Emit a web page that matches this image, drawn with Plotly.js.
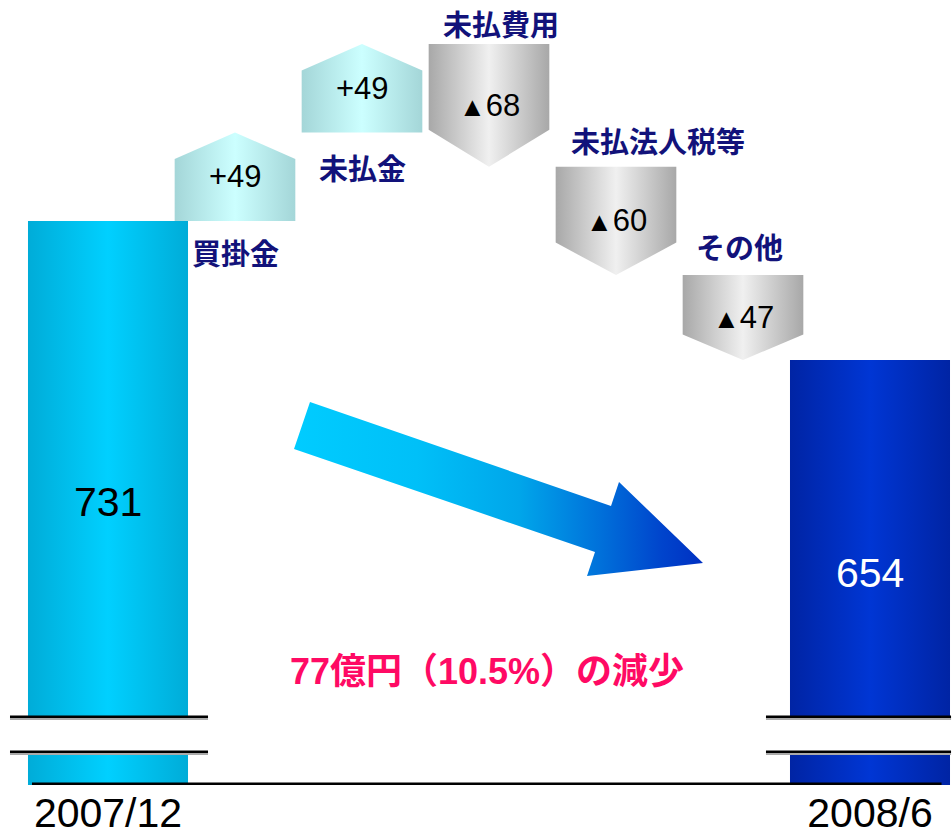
<!DOCTYPE html>
<html>
<head>
<meta charset="utf-8">
<script src="https://cdn.plot.ly/plotly-3.0.1.min.js"></script>
<style>html,body{margin:0;padding:0;background:#fff;}#chart{width:952px;height:836px;}</style>
</head>
<body>
<div id="chart"></div>
<script>
// ---- data ----
const periodLabels = ['2007/12', '2008/6'];
const startValue = 731;
const endValue = 654;
const changeNames = ['買掛金', '未払金', '未払費用', '未払法人税等', 'その他'];
const changeValues = [49, 49, -68, -60, -47];
const summaryText = '77億円（10.5%）の減少';

// ---- styling helpers ----
const barW = 1.26, boxW = 0.95, tipFrac = 0.3;
const navy = '#12127a';
const jpFont = 'Liberation Sans, Arial, Noto Sans CJK JP, sans-serif';

function gradient(edge, mid) {
  return {type: 'horizontal', colorscale: [[0, edge], [0.5, mid], [1, edge]]};
}
function poly(x, y, fg) {
  return {x: x, y: y, mode: 'lines', fill: 'toself', line: {width: 0, color: 'rgba(0,0,0,0)'},
          fillcolor: fg.colorscale[1][1], fillgradient: fg, hoverinfo: 'skip', showlegend: false};
}

const traces = [];
const annotations = [];

// start bar
traces.push(poly([0 - barW/2, 0 + barW/2, 0 + barW/2, 0 - barW/2, 0 - barW/2],
                 [0, 0, startValue, startValue, 0], gradient('#00acd8', '#00d0ff')));
// end bar
const endIdx = changeValues.length + 1;
traces.push(poly([endIdx - barW/2, endIdx + barW/2, endIdx + barW/2, endIdx - barW/2, endIdx - barW/2],
                 [0, 0, endValue, endValue, 0], gradient('#0024a4', '#0036d4')));

// change boxes
let level = startValue;
const labelOffsets = [
  {xs: 0, ys: -8, anchor: 'top'},
  {xs: 0, ys: -12, anchor: 'top'},
  {xs: 12, ys: -2, anchor: 'bottom'},
  {xs: 42, ys: 4, anchor: 'bottom'},
  {xs: -4, ys: 6, anchor: 'bottom'}
];
changeValues.forEach(function (v, k) {
  const i = k + 1;
  const a = level, b = level + v;
  const t = tipFrac * Math.abs(v);
  const shoulder = v > 0 ? b - t : b + t;
  const xs = [i - boxW/2, i + boxW/2, i + boxW/2, i, i - boxW/2, i - boxW/2];
  const ys = [a, a, shoulder, b, shoulder, a];
  traces.push(poly(xs, ys, v > 0 ? gradient('#a4d6d8', '#ccffff') : gradient('#a8a8a8', '#f0f0f0')));
  const valText = v > 0 ? '+' + v : '<span style="font-size:27px">▲</span>' + Math.abs(v);
  annotations.push({x: i, y: (a + b) / 2, xref: 'x', yref: 'y', text: valText, showarrow: false,
                    xanchor: 'center', yanchor: 'middle',
                    font: {family: 'Liberation Sans, Arial, sans-serif', size: 31, color: '#000'}});
  const o = labelOffsets[k];
  const labY = o.anchor === 'top' ? Math.min(a, b) : Math.max(a, b);
  annotations.push({x: i, y: labY, xref: 'x', yref: 'y', text: '<b>' + changeNames[k] + '</b>',
                    showarrow: false, xanchor: 'center', yanchor: o.anchor, xshift: o.xs, yshift: o.ys,
                    font: {family: 'Noto Sans CJK JP, sans-serif', size: 29, color: navy}});
  level = b;
});

// values in bars
annotations.push({x: 0, y: 0.3605, xref: 'x', yref: 'paper', text: String(startValue), showarrow: false,
                  xanchor: 'center', yanchor: 'middle',
                  font: {family: 'Liberation Sans, Arial, sans-serif', size: 41, color: '#000'}});
annotations.push({x: endIdx, y: 0.27, xref: 'x', yref: 'paper', text: String(endValue), showarrow: false,
                  xanchor: 'center', yanchor: 'middle',
                  font: {family: 'Liberation Sans, Arial, sans-serif', size: 41, color: '#fff'}});
annotations.push({x: 0.5116, y: 0.144, xref: 'paper', yref: 'paper', text: '<b>' + summaryText + '</b>',
                  showarrow: false, xanchor: 'center', yanchor: 'middle',
                  font: {family: jpFont, size: 36, color: '#ff0a64'}});

// decorative arrow (pixel positions within the plot area)
const arrowX = [310, 611, 619, 703, 587, 595, 294, 310];
const arrowY = [402, 506, 482, 563, 576, 552, 449, 402];
traces.push({x: arrowX, y: arrowY, xaxis: 'x2', yaxis: 'y2', mode: 'lines', fill: 'toself',
             line: {width: 0, color: 'rgba(0,0,0,0)'}, fillcolor: '#00a0e8',
             fillgradient: {type: 'horizontal', colorscale: [[0, '#00ccff'], [0.3, '#00c0f8'], [0.55, '#00a6ea'], [0.75, '#0070da'], [0.9, '#0044cc'], [1, '#0030c2']]},
             hoverinfo: 'skip', showlegend: false});

// axis break + baseline
const shapes = [];
const brkTop = 0.0870, brkBot = 0.0424;
[[0.0, 0.24], [0.79, 1.0]].forEach(function (r) {
  shapes.push({type: 'rect', xref: 'paper', yref: 'paper', x0: r[0], x1: r[1], y0: brkBot, y1: brkTop,
               fillcolor: '#fff', line: {width: 0}, layer: 'above'});
});
[[0.0105, 0.2185], [0.8046, 0.999]].forEach(function (r) {
  [brkTop, brkBot].forEach(function (yy) {
    shapes.push({type: 'line', xref: 'paper', yref: 'paper', x0: r[0], x1: r[1], y0: yy - 0.0028, y1: yy - 0.0028,
                 line: {color: '#aaaaaa', width: 2}, layer: 'above'});
    shapes.push({type: 'line', xref: 'paper', yref: 'paper', x0: r[0], x1: r[1], y0: yy, y1: yy,
                 line: {color: '#000', width: 2.5}, layer: 'above'});
  });
});
shapes.push({type: 'line', xref: 'paper', yref: 'paper', x0: 0.0336, x1: 0.989, y0: 0.0015, y1: 0.0015,
             line: {color: '#000', width: 2.5}, layer: 'above'});

const layout = {
  width: 952, height: 836,
  margin: {l: 0, r: 0, t: 0, b: 51, pad: 0},
  paper_bgcolor: '#fff', plot_bgcolor: 'rgba(0,0,0,0)',
  showlegend: false,
  xaxis: {range: [-0.8504, 6.6457], showgrid: false, zeroline: false, showline: false,
          tickmode: 'array', tickvals: [0, endIdx], ticktext: periodLabels, ticks: '',
          tickfont: {family: 'Liberation Sans, Arial, sans-serif', size: 41, color: '#000'},
          automargin: false, fixedrange: true},
  yaxis: {range: [418.7, 853.3], visible: false, showgrid: false, zeroline: false, fixedrange: true},
  xaxis2: {overlaying: 'x', anchor: 'y2', range: [0, 952], visible: false, fixedrange: true},
  yaxis2: {overlaying: 'y', anchor: 'x2', range: [785, 0], visible: false, fixedrange: true},
  annotations: annotations,
  shapes: shapes
};

Plotly.newPlot('chart', traces, layout, {displayModeBar: false, staticPlot: true});
</script>
</body>
</html>
